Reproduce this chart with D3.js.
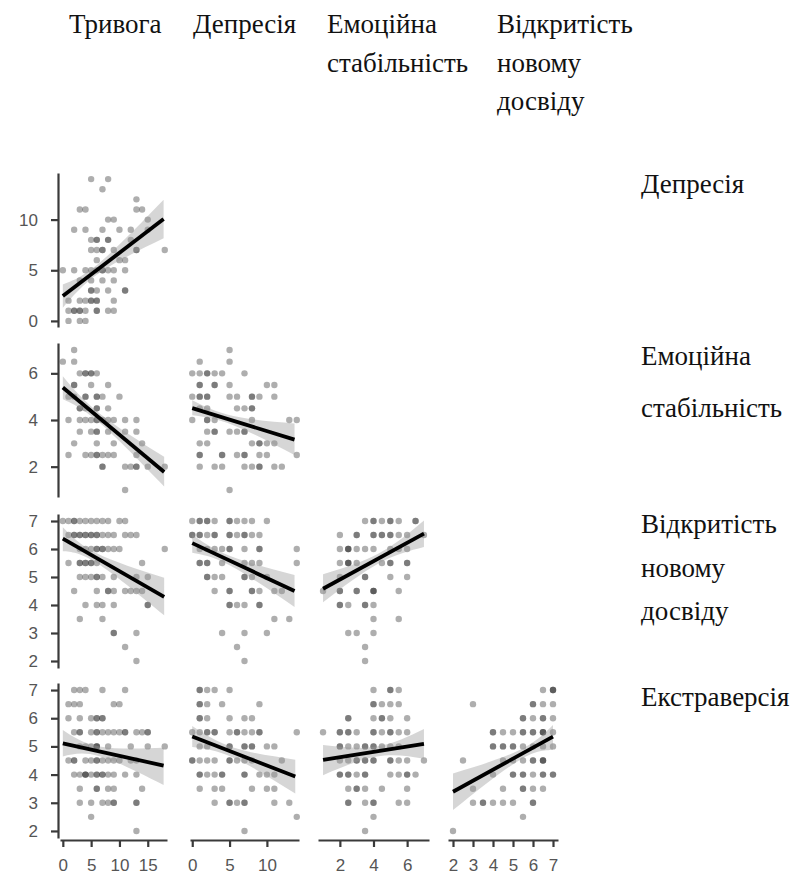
<!DOCTYPE html>
<html>
<head>
<meta charset="utf-8">
<script src="https://cdn.jsdelivr.net/npm/d3@7"></script>
<style>
  body { margin: 0; background: #fff; }
</style>
</head>
<body>
<div id="chart"></div>
<script>
// variable names (columns = x, rows = y)
const colNames = [["Тривога"], ["Депресія"], ["Емоційна", "стабільність"], ["Відкритість", "новому", "досвіду"]];
const rowNames = [["Депресія"], ["Емоційна", "стабільність"], ["Відкритість", "новому", "досвіду"], ["Екстраверсія"]];

const xTicks = [[0, 5, 10, 15], [0, 5, 10], [2, 4, 6], [2, 3, 4, 5, 6, 7]];
const yTicks = [[0, 5, 10], [2, 4, 6], [2, 3, 4, 5, 6, 7], [2, 3, 4, 5, 6, 7]];
const xDomains = [[-0.5, 18.4], [-0.3, 14.3], [0.7, 7.3], [1.75, 7.25]];
const yDomains = [[-0.6, 14.6], [0.7, 7.3], [1.75, 7.25], [1.75, 7.25]];

// points: [y, [x values]] - repeated x = overlapping respondents
const anxDep = [
  [14, [5, 8]], [13, [7]], [12, [13]], [11, [3, 4, 13, 14]], [10, [8, 9, 15]],
  [9, [2, 4, 7, 10, 12, 15]], [8, [5, 6, 6, 8, 8, 12]], [7, [5, 6, 7, 7, 9, 13, 13, 18]],
  [6, [6, 10, 11]], [5, [0, 2, 4, 5, 6, 7, 7, 8, 9, 11]], [4, [3, 5, 7, 9]],
  [3, [5, 5, 6, 8, 11, 11]], [2, [1, 3, 4, 5, 5, 6, 6, 9]], [1, [1, 2, 2, 3, 3, 4, 6, 6, 8, 9]],
  [0, [1, 3, 4]]
];
const anxEmo = [
  [7, [2]], [6.5, [0, 2]], [6, [3, 4, 4, 5, 5, 6]], [5.5, [2, 2, 5, 8]],
  [5, [1, 2, 4, 4, 6, 6, 7, 10]], [4.5, [3, 3, 4, 6, 6, 8]],
  [4, [1, 3, 4, 5, 6, 6, 7, 8, 9, 11, 13]], [3.5, [3, 5, 6, 6, 8, 11, 13]],
  [3, [2, 6, 9, 14]], [2.5, [1, 4, 5, 6, 6, 7, 8, 9, 13]], [2, [7, 7, 11, 12, 13, 13, 15, 18]],
  [1, [11]]
];
const depEmo = [
  [7, [5]], [6.5, [1, 5]], [6, [0, 1, 2, 2, 3, 4, 7]], [5.5, [1, 1, 3, 3, 5, 10, 11]],
  [5, [0, 1, 1, 2, 2, 5, 6, 8, 8, 9, 11]], [4.5, [1, 2, 6, 7, 8, 8]],
  [4, [0, 2, 2, 3, 8, 13, 14]], [3.5, [2, 3, 3, 5, 6, 7, 7]], [3, [1, 2, 8, 9, 9, 10, 11]],
  [2.5, [1, 1, 4, 4, 6, 7, 7, 9, 10, 14]], [2, [1, 3, 4, 7, 8, 9, 9, 11, 12]], [1, [5]]
];
const anxOpen = [
  [7, [0, 1, 2, 2, 3, 4, 5, 6, 7, 8, 10, 11]],
  [6.5, [1, 2, 2, 3, 3, 4, 4, 5, 5, 6, 6, 7, 8, 9, 11, 12, 13]],
  [6, [3, 4, 5, 6, 6, 7, 7, 8, 9, 10, 18]], [5.5, [1, 3, 3, 4, 4, 5, 5, 6, 14]],
  [5, [3, 4, 5, 6, 6, 7, 9, 13, 15]], [4.5, [2, 6, 8, 8, 9, 11, 12, 13, 14]],
  [4, [4, 6, 7, 9, 15, 15]], [3.5, [3, 7]], [3, [9, 9, 13]], [2.5, [11]], [2, [13]]
];
const depOpen = [
  [7, [0, 1, 1, 2, 2, 3, 5, 5, 6, 7, 8, 10]],
  [6.5, [0, 0, 1, 1, 2, 3, 3, 5, 5, 6, 7, 7, 8, 9]],
  [6, [1, 2, 3, 4, 5, 5, 7, 9, 9, 14]], [5.5, [1, 1, 2, 2, 4, 7, 8, 9, 14]],
  [5, [2, 2, 3, 4, 7, 7, 8, 10]], [4.5, [3, 5, 5, 8, 8, 9, 11, 12]],
  [4, [5, 5, 6, 7, 9, 9]], [3.5, [11, 13]], [3, [4, 7, 10]], [2.5, [6]], [2, [7]]
];
const emoOpen = [
  [7, [3.5, 4, 4, 4.5, 5, 5, 5.5, 6.5, 6.5]],
  [6.5, [2, 3, 3, 4, 4, 4.5, 4.5, 5, 5, 5.5, 6, 7]],
  [6, [2, 2.5, 2.5, 2.5, 3, 3.5, 4, 5, 5.5, 6]], [5.5, [2, 2.5, 2.5, 2.5, 3, 4.5, 5, 5, 6, 6]],
  [5, [2, 3.5, 3.5, 5, 6]], [4.5, [1, 2, 2, 3, 3, 4, 4, 4, 5.5]],
  [4, [2, 2, 2.5, 3.5, 3.5, 4]], [3.5, [4, 5.5]], [3, [2.5, 3, 4]], [2.5, [3.5]], [2, [3.5]]
];
const anxExt = [
  [7, [2, 3, 4, 7, 11]], [6.5, [1, 2, 3, 9, 10]], [6, [1, 3, 5, 6, 6, 7, 7]],
  [5.5, [2, 3, 3, 5, 6, 6, 7, 8, 9, 10, 11, 11, 13, 14, 15, 15]],
  [5, [3, 4, 5, 6, 6, 6, 8, 12, 15, 18]],
  [4.5, [1, 2, 2, 4, 5, 6, 6, 7, 8, 9, 10, 12, 13]],
  [4, [2, 3, 4, 4, 4, 5, 6, 6, 7, 7, 8, 9, 11, 13]], [3.5, [3, 6, 6, 8, 9, 14]],
  [3, [3, 5, 7, 8, 9, 9, 13, 13]], [2.5, [5]], [2, [13]]
];
const depExt = [
  [7, [1, 1, 2, 3, 5]], [6.5, [1, 1, 2, 4, 9]], [6, [1, 1, 2, 5, 7, 8]],
  [5.5, [0, 1, 2, 2, 3, 3, 5, 6, 6, 7, 8, 9, 9, 14]], [5, [1, 2, 5, 5, 7, 7, 8, 8, 10, 11]],
  [4.5, [0, 0, 1, 2, 3, 5, 5, 6, 7, 8, 12]], [4, [1, 1, 2, 3, 4, 4, 7, 7, 9, 10, 11]],
  [3.5, [1, 3, 4, 8, 10, 11]], [3, [3, 5, 5, 6, 7, 7, 11, 13]], [2.5, [14]], [2, [7]]
];
const emoExt = [
  [7, [4, 5, 5, 5.5]], [6.5, [4, 4, 4.5, 5, 5.5]], [6, [2.5, 2.5, 4, 4.5, 4.5, 5, 6]],
  [5.5, [1, 2, 2, 2.5, 2.5, 3, 4, 4, 4.5, 5, 5, 5.5, 6]],
  [5, [2, 2, 2.5, 3, 3.5, 3.5, 4, 4, 4.5, 5, 5.5]],
  [4.5, [2, 2.5, 3, 3, 3.5, 3.5, 4, 4, 5, 5, 5.5, 6, 7]],
  [4, [2, 2, 2.5, 2.5, 3, 3.5, 3.5, 5, 5.5, 6, 6, 6.5]],
  [3.5, [2.5, 3, 3, 3.5, 4.5, 6]], [3, [2.5, 2.5, 3.5, 4, 4, 5.5, 6]], [2.5, [4]], [2, [3.5]]
];
const openExt = [
  [7, [6.5, 7, 7, 7]], [6.5, [3, 6, 6, 6.5, 7]], [6, [5.5, 5.5, 6, 6.5, 6.5, 7]],
  [5.5, [4, 4, 4.5, 5, 5.5, 5.5, 6, 6, 6.5, 6.5, 6.5, 7]],
  [5, [4, 4, 4.5, 4.5, 5, 5, 5.5, 6, 6.5, 7]], [4.5, [2.5, 4.5, 5, 5.5, 6, 6, 6.5, 6.5, 6.5]],
  [4, [4, 5, 5, 5.5, 5.5, 6, 6.5, 6.5, 7, 7]], [3.5, [3, 4.5, 5.5, 5.5, 6, 6.5]],
  [3, [3, 3.5, 3.5, 4, 4.5, 5, 6, 6]], [2.5, [5.5]], [2, [2]]
];

// fitted lines [x0, y0, x1, y1] and confidence bands [x, lo, hi]
const anxDepFit = [0, 2.45, 17.8, 10.05];
const anxDepBand = [[0, 1.3, 3.6], [6.5, 4.75, 5.75], [17.8, 8.15, 11.95]];
const anxEmoFit = [0, 5.39, 17.9, 1.77];
const anxEmoBand = [[0, 4.89, 5.87], [6.5, 3.88, 4.28], [17.9, 1.15, 2.42]];
const depEmoFit = [0, 4.51, 13.7, 3.16];
const depEmoBand = [[0, 4.2, 4.85], [5.5, 3.78, 4.17], [13.7, 2.5, 3.85]];
const anxOpenFit = [0, 6.37, 17.9, 4.29];
const anxOpenBand = [[0, 5.92, 6.78], [6, 5.5, 5.85], [17.9, 3.63, 4.97]];
const depOpenFit = [0, 6.21, 13.7, 4.5];
const depOpenBand = [[0, 5.87, 6.52], [5, 5.42, 5.76], [13.7, 3.93, 5.07]];
const emoOpenFit = [1, 4.58, 7, 6.55];
const emoOpenBand = [[1, 4.1, 5.1], [4.3, 5.48, 5.84], [7, 6.07, 7.02]];
const anxExtFit = [0, 5.11, 17.8, 4.32];
const anxExtBand = [[0, 4.64, 5.58], [6.5, 4.65, 5.0], [17.8, 3.63, 4.95]];
const depExtFit = [0, 5.35, 13.8, 3.93];
const depExtBand = [[0, 4.98, 5.72], [5.5, 4.6, 4.96], [13.8, 3.33, 4.53]];
const emoExtFit = [1, 4.52, 7, 5.09];
const emoExtBand = [[1, 3.98, 5.05], [4.2, 4.64, 5.0], [7, 4.56, 5.62]];
const openExtFit = [2, 3.39, 7, 5.35];
const openExtBand = [[2, 2.74, 4.04], [5.3, 4.5, 4.86], [7, 4.87, 5.76]];

const panels = [
  { row: 0, col: 0, pts: anxDep, fit: anxDepFit, band: anxDepBand },
  { row: 1, col: 0, pts: anxEmo, fit: anxEmoFit, band: anxEmoBand },
  { row: 1, col: 1, pts: depEmo, fit: depEmoFit, band: depEmoBand },
  { row: 2, col: 0, pts: anxOpen, fit: anxOpenFit, band: anxOpenBand },
  { row: 2, col: 1, pts: depOpen, fit: depOpenFit, band: depOpenBand },
  { row: 2, col: 2, pts: emoOpen, fit: emoOpenFit, band: emoOpenBand },
  { row: 3, col: 0, pts: anxExt, fit: anxExtFit, band: anxExtBand },
  { row: 3, col: 1, pts: depExt, fit: depExtFit, band: depExtBand },
  { row: 3, col: 2, pts: emoExt, fit: emoExtFit, band: emoExtBand },
  { row: 3, col: 3, pts: openExt, fit: openExtFit, band: openExtBand }
];

// layout
const width = 806, height = 875;
const colRange = [[60, 167], [190, 299], [318, 429], [448, 558]];
const rowRange = [[327, 173], [497, 343], [668, 514], [838, 683]];

const svg = d3.select("#chart").append("svg")
  .attr("width", width)
  .attr("height", height)
  .style("font-family", "'Liberation Serif', 'Times New Roman', serif");

const xs = colRange.map((r, i) => d3.scaleLinear().domain(xDomains[i]).range(r));
const ys = rowRange.map((r, i) => d3.scaleLinear().domain(yDomains[i]).range(r));

// column headers
const headerX = [69, 193, 327, 497];
colNames.forEach(function (lines, i) {
  lines.forEach(function (t, j) {
    svg.append("text")
      .attr("x", headerX[i])
      .attr("y", 33 + j * 38.5)
      .style("font-size", "27px")
      .attr("fill", "#111")
      .text(t);
  });
});

// row labels on the right
const rowLabelY = [[193], [365, 417], [533, 577, 620], [706]];
rowNames.forEach(function (lines, i) {
  lines.forEach(function (t, j) {
    svg.append("text")
      .attr("x", 641)
      .attr("y", rowLabelY[i][j])
      .style("font-size", "27px")
      .attr("fill", "#111")
      .text(t);
  });
});

function styleAxis(g) {
  g.select(".domain").attr("stroke", "#3a3a3a").attr("stroke-width", 2.2);
  g.selectAll(".tick line").attr("stroke", "#3a3a3a").attr("stroke-width", 2.2);
  g.selectAll(".tick text")
    .attr("fill", "#555")
    .style("font-family", "'Liberation Sans', Arial, sans-serif")
    .style("font-size", "17px");
}

// y axes (left column)
ys.forEach(function (y, i) {
  const g = svg.append("g")
    .attr("transform", "translate(58,0)")
    .call(d3.axisLeft(y).tickValues(yTicks[i]).tickFormat(d3.format("d"))
      .tickSize(7).tickPadding(13).tickSizeOuter(0));
  styleAxis(g);
});

// x axes (bottom row)
xs.forEach(function (x, i) {
  const g = svg.append("g")
    .attr("transform", "translate(0,840)")
    .call(d3.axisBottom(x).tickValues(xTicks[i]).tickFormat(d3.format("d"))
      .tickSize(7).tickPadding(12).tickSizeOuter(0));
  styleAxis(g);
});

// panels
panels.forEach(function (p) {
  const x = xs[p.col], y = ys[p.row];
  const g = svg.append("g");

  const flat = [];
  p.pts.forEach(function (r) {
    r[1].forEach(function (v) { flat.push([v, r[0]]); });
  });
  g.selectAll("circle")
    .data(flat)
    .enter()
    .append("circle")
    .attr("cx", d => x(d[0]))
    .attr("cy", d => y(d[1]))
    .attr("r", 3.2)
    .attr("fill", "#2a2a2a")
    .attr("fill-opacity", 0.38);

  const area = d3.area()
    .x(d => x(d[0]))
    .y0(d => y(d[1]))
    .y1(d => y(d[2]))
    .curve(d3.curveNatural);
  g.append("path")
    .datum(p.band)
    .attr("d", area)
    .attr("fill", "#999")
    .attr("fill-opacity", 0.4);

  g.append("line")
    .attr("x1", x(p.fit[0]))
    .attr("y1", y(p.fit[1]))
    .attr("x2", x(p.fit[2]))
    .attr("y2", y(p.fit[3]))
    .attr("stroke", "#000")
    .attr("stroke-width", 3.8);
});
</script>
</body>
</html>
